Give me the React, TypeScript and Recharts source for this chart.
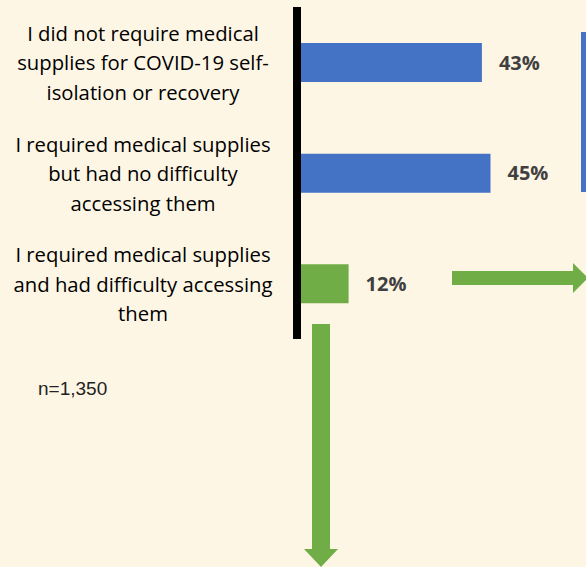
import React from "react";
import { BarChart, Bar, XAxis, YAxis, Cell, LabelList } from "recharts";

const categories = [
  "I did not require medical supplies for COVID-19 self-isolation or recovery",
  "I required medical supplies but had no difficulty accessing them",
  "I required medical supplies and had difficulty accessing them",
];
const categoryLines = [
  ["I did not require medical", "supplies for COVID-19 self-", "isolation or recovery"],
  ["I required medical supplies", "but had no difficulty", "accessing them"],
  ["I required medical supplies", "and had difficulty accessing", "them"],
];
const values = [43, 45, 12];
const barColors = ["#4472C4", "#4472C4", "#70AD47"];
const sampleNote = "n=1,350";

const data = categories.map((name, i) => ({ name, value: values[i], idx: i }));

const BG = "#FEF6E4";
const GREEN = "#70AD47";
const BLUE = "#4472C4";

const CategoryTick = (props: any) => {
  const { y, index } = props;
  const lines = categoryLines[index] || [];
  const lh = 29.5;
  const start = -((lines.length - 1) * lh) / 2;
  return (
    <g>
      {lines.map((l: string, i: number) => (
        <text
          key={i}
          x={143}
          y={y + start + i * lh}
          textAnchor="middle"
          dominantBaseline="central"
          fontFamily="'Open Sans', sans-serif"
          fontSize={20.3}
          fill="#000"
        >
          {l}
        </text>
      ))}
    </g>
  );
};

const fmt = (v: any) => `${v}%`;

export default function App() {
  return (
    <div style={{ position: "absolute", left: 0, top: 0, width: 586, height: 567, background: BG, overflow: "hidden" }}>
      <BarChart
        width={586}
        height={567}
        data={data}
        layout="vertical"
        margin={{ top: 7, right: 74, bottom: 228, left: 0 }}
      >
        <XAxis type="number" domain={[0, 50]} hide />
        <YAxis
          type="category"
          dataKey="name"
          width={297}
          axisLine={{ stroke: "#000", strokeWidth: 8 }}
          tickLine={false}
          tick={<CategoryTick />}
          interval={0}
        />
        <Bar dataKey="value" barSize={39} isAnimationActive={false}>
          {data.map((d, i) => (
            <Cell key={i} fill={barColors[i]} />
          ))}
          <LabelList
            dataKey="value"
            position="right"
            offset={17}
            formatter={fmt}
            fill="#404040"
            fontFamily="'Open Sans', sans-serif"
            fontWeight="bold"
            fontSize={20}
          />
        </Bar>
        <g>
          <rect x={581} y={32} width={10} height={160} fill={BLUE} />
          <rect x={452} y={271} width={121} height={14} fill={GREEN} />
          <polygon points="573,263 588,278 573,293" fill={GREEN} />
          <rect x={312} y={324} width={18} height={226} fill={GREEN} />
          <polygon points="304,549 338,549 321,567" fill={GREEN} />
          <text
            x={38}
            y={388}
            dominantBaseline="central"
            fontFamily="'Liberation Sans', Arial, sans-serif"
            fontSize={19}
            fill="#222"
          >
            {sampleNote}
          </text>
        </g>
      </BarChart>
    </div>
  );
}
